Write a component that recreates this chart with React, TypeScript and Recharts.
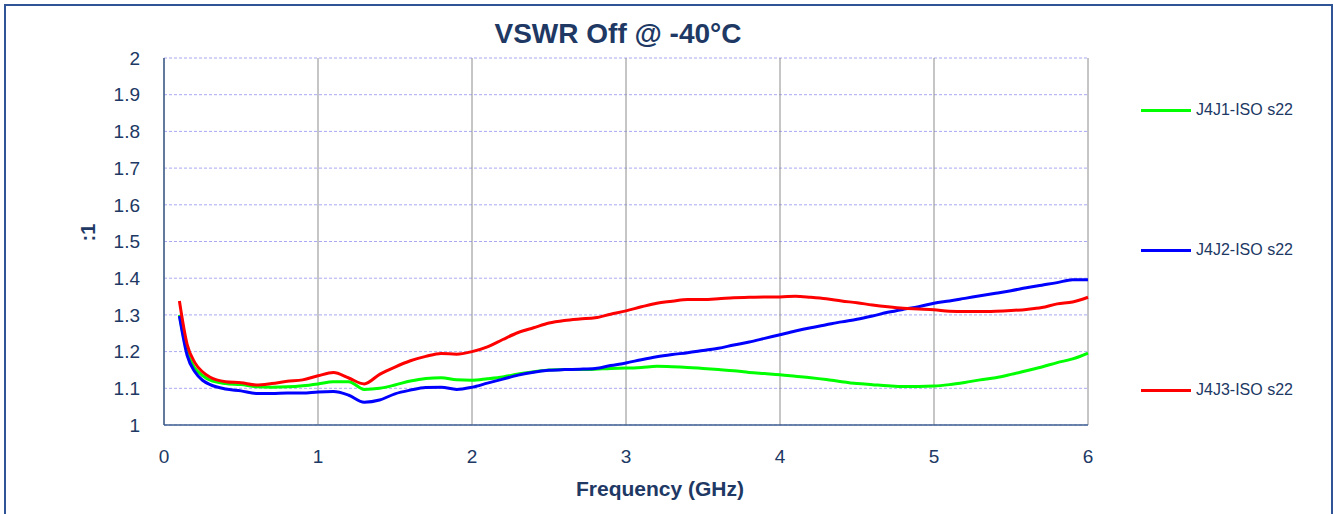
import React from 'react';
import { LineChart, Line, XAxis, YAxis, CartesianGrid } from 'recharts';

// frequency points (GHz)
const freq = [
  0.1, 0.15, 0.2, 0.25, 0.3, 0.4, 0.5, 0.6, 0.7, 0.8, 0.9, 1.0, 1.1, 1.2, 1.3, 1.4, 1.5, 1.6, 1.7, 1.8, 1.9, 2.0,
  2.1, 2.2, 2.3, 2.4, 2.5, 2.6, 2.7, 2.8, 2.9, 3.0, 3.1, 3.2, 3.3, 3.4, 3.5, 3.6, 3.7, 3.8, 3.9, 4.0,
  4.1, 4.2, 4.3, 4.4, 4.5, 4.6, 4.7, 4.8, 4.9, 5.0, 5.1, 5.2, 5.3, 5.4, 5.5, 5.6, 5.7, 5.8, 5.9, 6.0,
];

const j4j1 = [
  1.3, 1.2, 1.155, 1.135, 1.122, 1.113, 1.11, 1.104, 1.103, 1.104, 1.107, 1.112, 1.118, 1.118, 1.097, 1.1, 1.109,
  1.12, 1.127, 1.129, 1.123, 1.122, 1.126, 1.131, 1.139, 1.145, 1.15, 1.151, 1.151, 1.152, 1.154, 1.155, 1.157,
  1.16, 1.159, 1.157, 1.154, 1.151, 1.148, 1.143, 1.14, 1.137, 1.133, 1.129, 1.124, 1.118, 1.113, 1.11, 1.107,
  1.105, 1.105, 1.106, 1.11, 1.116, 1.123, 1.129, 1.138, 1.148, 1.158, 1.17, 1.18, 1.196,
];

const j4j2 = [
  1.297, 1.19, 1.145, 1.122, 1.11, 1.098, 1.093, 1.086, 1.086, 1.087, 1.087, 1.09, 1.091, 1.081, 1.062, 1.068,
  1.085, 1.095, 1.102, 1.103, 1.097, 1.103, 1.114, 1.125, 1.136, 1.144, 1.149, 1.151, 1.152, 1.154, 1.162, 1.169,
  1.178, 1.186, 1.192, 1.197, 1.203, 1.209, 1.218, 1.226, 1.236, 1.246, 1.256, 1.265, 1.273, 1.281, 1.288, 1.297,
  1.307, 1.315, 1.322, 1.332, 1.338, 1.345, 1.352, 1.359, 1.366, 1.374, 1.381, 1.388, 1.396, 1.396,
];

const j4j3 = [
  1.338, 1.22, 1.17, 1.145, 1.13, 1.118, 1.115, 1.109, 1.113, 1.119, 1.123, 1.134, 1.143, 1.128, 1.112, 1.138,
  1.158, 1.175, 1.187, 1.195, 1.193, 1.2, 1.213, 1.233, 1.252, 1.265, 1.278, 1.285, 1.289, 1.292, 1.302, 1.311,
  1.322, 1.332, 1.337, 1.342, 1.342, 1.344, 1.347, 1.348, 1.349, 1.349, 1.351, 1.348, 1.344, 1.338, 1.333, 1.327,
  1.322, 1.318, 1.316, 1.314, 1.31, 1.309, 1.309, 1.31, 1.312, 1.315, 1.32, 1.33, 1.335, 1.348,
];

const xTicks = [0, 1, 2, 3, 4, 5, 6];
const yTicks = [1, 1.1, 1.2, 1.3, 1.4, 1.5, 1.6, 1.7, 1.8, 1.9, 2];

const series = [
  { key: 'j4j1', name: 'J4J1-ISO s22', color: '#00FF00', values: j4j1 },
  { key: 'j4j2', name: 'J4J2-ISO s22', color: '#0000FF', values: j4j2 },
  { key: 'j4j3', name: 'J4J3-ISO s22', color: '#FF0000', values: j4j3 },
];

const data = freq.map((f, i) => ({ f, j4j1: j4j1[i], j4j2: j4j2[i], j4j3: j4j3[i] }));

const textColor = '#203864';
const axisColor = '#41608F';
const font = '"Liberation Sans", Arial, sans-serif';

export default function App() {
  return (
    <div style={{ position: 'absolute', left: 0, top: 0, width: 1333, height: 514, background: '#fff', fontFamily: font, overflow: 'hidden' }}>
      <div style={{ position: 'absolute', left: 4, top: 4, width: 1325, height: 520, border: '2px solid #2F5597' }} />
      <div style={{ position: 'absolute', left: 0, width: 1236, top: 18, textAlign: 'center', fontSize: 28, fontWeight: 'bold', color: textColor }}>
        VSWR Off @ -40°C
      </div>
      <LineChart width={1333} height={514} data={data} margin={{ top: 58, right: 245, left: 104, bottom: 14 }}>
        <CartesianGrid horizontal vertical={false} stroke="#A8A8F5" strokeDasharray="3 2" />
        <CartesianGrid horizontal={false} vertical stroke="#8C8C8C" />
        <XAxis
          dataKey="f"
          type="number"
          domain={[0, 6]}
          ticks={xTicks}
          height={75}
          stroke={axisColor}
          strokeWidth={1.5}
          tickLine={false}
          tickSize={0}
          tickMargin={25}
          tick={{ fill: textColor, fontSize: 19, fontFamily: font }}
          label={{ value: 'Frequency (GHz)', position: 'insideBottom', offset: 4, dx: 34, fill: textColor, fontSize: 21, fontWeight: 'bold', fontFamily: font }}
        />
        <YAxis
          type="number"
          domain={[1, 2]}
          ticks={yTicks}
          width={60}
          stroke={axisColor}
          strokeWidth={1.5}
          tickLine={false}
          tickSize={0}
          tickMargin={24}
          tick={{ fill: textColor, fontSize: 19, fontFamily: font }}
          label={{ value: ':1', angle: -90, position: 'insideLeft', offset: -16, fill: textColor, fontSize: 20, fontWeight: 'bold', fontFamily: font }}
        />
        {series.map((s) => (
          <Line
            key={s.key}
            dataKey={s.key}
            name={s.name}
            type="monotone"
            stroke={s.color}
            strokeWidth={3}
            dot={false}
            isAnimationActive={false}
          />
        ))}
      </LineChart>
      {series.map((s, i) => (
        <div key={s.key} style={{ position: 'absolute', left: 1141, top: 100 + i * 140, height: 20, display: 'flex', alignItems: 'center' }}>
          <div style={{ width: 50, height: 3, background: s.color, marginRight: 5 }} />
          <span style={{ fontSize: 16, color: textColor }}>{s.name}</span>
        </div>
      ))}
    </div>
  );
}
